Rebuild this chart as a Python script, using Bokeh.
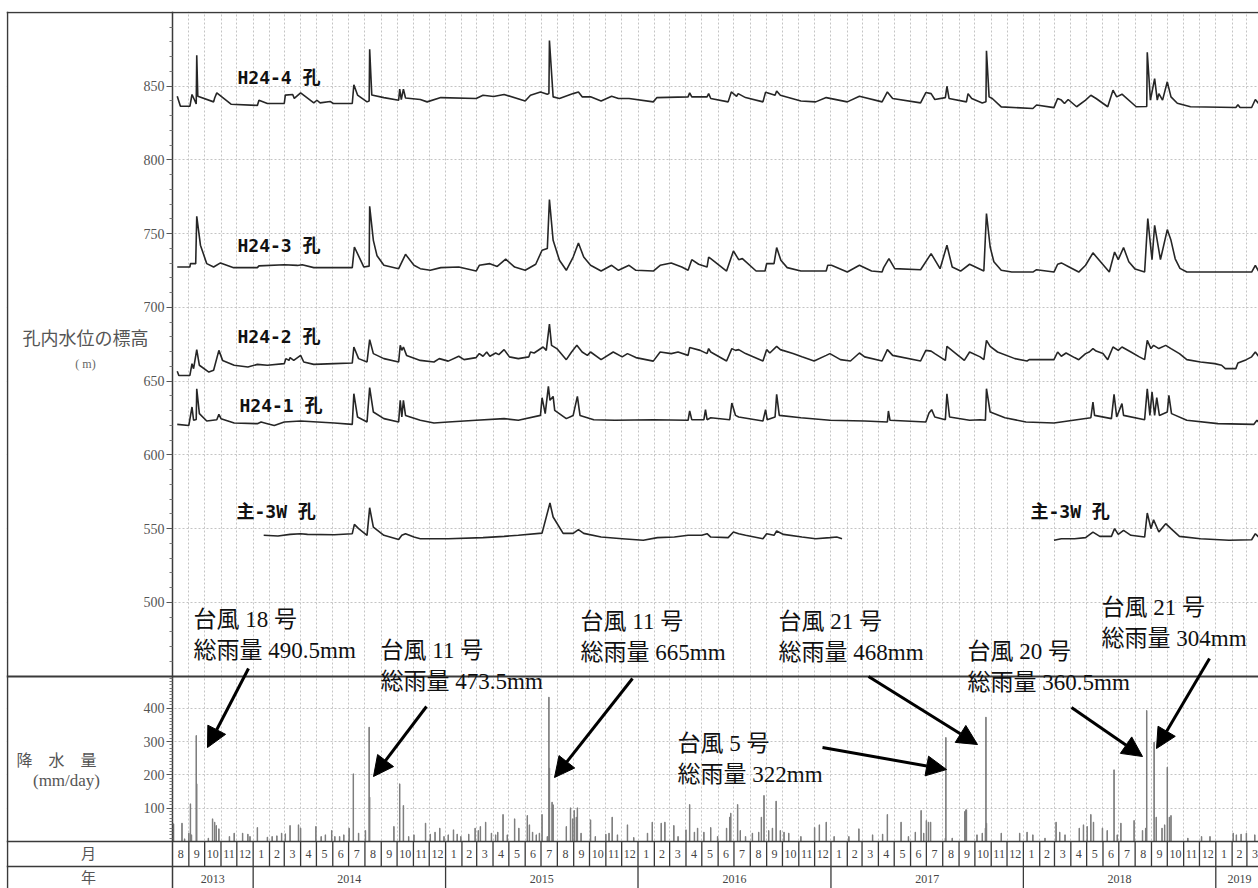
import pandas as pd
from bokeh.plotting import figure
from bokeh.models import Range1d, FixedTicker, Label, Arrow, NormalHead, Span
from bokeh.core.properties import value
from bokeh.embed import file_html
from bokeh.resources import INLINE

# ---------------------------------------------------------------- data
# groundwater level in boreholes (m a.s.l.)
H24_4_DATES = ["2013-08-10", "2013-08-16", "2013-09-03", "2013-09-07", "2013-09-12", "2013-09-15", "2013-09-16", "2013-09-18",
               "2013-10-18", "2013-10-20", "2013-10-24", "2013-11-20", "2014-01-09", "2014-01-12", "2014-01-28", "2014-03-01",
               "2014-03-03", "2014-03-17", "2014-03-20", "2014-04-01", "2014-04-26", "2014-05-02", "2014-05-08", "2014-05-27",
               "2014-06-02", "2014-07-08", "2014-07-11", "2014-07-18", "2014-08-05", "2014-08-09", "2014-08-10", "2014-08-14",
               "2014-09-06", "2014-10-04", "2014-10-06", "2014-10-09", "2014-10-13", "2014-10-17", "2014-11-14", "2014-11-27",
               "2014-12-23", "2015-02-28", "2015-03-13", "2015-04-02", "2015-04-22", "2015-06-01", "2015-06-11", "2015-06-30",
               "2015-07-13", "2015-07-16", "2015-07-17", "2015-07-24", "2015-08-05", "2015-08-31", "2015-09-10", "2015-09-17",
               "2015-10-03", "2015-10-23", "2015-11-12", "2015-11-25", "2015-12-15", "2016-01-30", "2016-02-06", "2016-04-05",
               "2016-04-08", "2016-04-12", "2016-05-11", "2016-05-14", "2016-05-18", "2016-06-20", "2016-06-26", "2016-07-06",
               "2016-07-09", "2016-07-23", "2016-08-25", "2016-08-30", "2016-09-17", "2016-09-20", "2016-09-27", "2016-11-05",
               "2016-12-03", "2016-12-23", "2017-02-01", "2017-02-24", "2017-04-08", "2017-04-18", "2017-04-28", "2017-06-20",
               "2017-06-30", "2017-07-10", "2017-07-17", "2017-08-06", "2017-08-09", "2017-08-13", "2017-09-15", "2017-09-18",
               "2017-09-25", "2017-10-15", "2017-10-22", "2017-10-23", "2017-10-28", "2017-11-03", "2017-11-20", "2018-01-19",
               "2018-01-26", "2018-02-28", "2018-03-07", "2018-03-14", "2018-03-20", "2018-03-27", "2018-04-12", "2018-04-29",
               "2018-05-09", "2018-05-19", "2018-06-10", "2018-06-20", "2018-06-27", "2018-07-07", "2018-08-03", "2018-08-23",
               "2018-08-24", "2018-08-30", "2018-09-07", "2018-09-12", "2018-09-15", "2018-09-22", "2018-10-01", "2018-10-08",
               "2018-10-20", "2018-11-14", "2019-02-08", "2019-02-12", "2019-02-16", "2019-03-10", "2019-03-17", "2019-03-23"]
H24_4_LEVEL = [843.2, 836.4, 836.4, 844.4, 840.5, 838.0, 871.0, 843.2,
               839.4, 842.0, 845.5, 837.8, 837.0, 840.5, 838.3, 838.3,
               844.0, 844.4, 841.8, 845.5, 838.7, 840.5, 838.7, 839.7,
               838.3, 838.3, 851.0, 844.0, 839.4, 840.0, 875.0, 844.0,
               842.3, 840.5, 848.0, 841.0, 848.0, 842.0, 841.0, 839.4,
               842.3, 841.7, 843.9, 843.0, 844.4, 840.0, 843.9, 846.1,
               844.6, 845.0, 881.0, 842.8, 841.7, 845.0, 846.1, 842.8,
               842.8, 840.0, 843.2, 841.7, 841.7, 839.4, 842.3, 842.8,
               845.5, 842.8, 842.8, 845.0, 841.7, 839.4, 846.1, 843.2,
               845.0, 842.3, 839.4, 846.0, 843.9, 846.8, 843.9, 840.0,
               839.4, 842.3, 839.4, 843.2, 839.4, 846.1, 841.7, 838.7,
               845.7, 845.0, 841.0, 842.3, 850.0, 841.7, 839.4, 845.0,
               841.7, 838.7, 839.5, 874.0, 842.8, 841.7, 836.0, 834.9,
               837.3, 835.5, 841.7, 840.6, 838.3, 841.0, 836.1, 840.6,
               843.9, 841.7, 836.1, 847.3, 842.8, 844.6, 836.1, 836.3,
               873.0, 840.6, 855.2, 840.6, 845.0, 840.6, 853.0, 842.8,
               838.5, 836.1, 835.6, 837.5, 835.6, 835.6, 841.0, 838.3]

H24_3_DATES = ["2013-08-10", "2013-09-03", "2013-09-04", "2013-09-14", "2013-09-16", "2013-09-23", "2013-10-05", "2013-10-18",
               "2013-10-31", "2013-11-25", "2014-01-09", "2014-01-12", "2014-03-01", "2014-03-26", "2014-04-04", "2014-04-26",
               "2014-07-08", "2014-07-12", "2014-07-30", "2014-08-09", "2014-08-10", "2014-08-17", "2014-08-24", "2014-09-06", "2014-10-04",
               "2014-10-17", "2014-11-02", "2014-11-14", "2014-12-03", "2014-12-23", "2015-01-26", "2015-02-28", "2015-03-06",
               "2015-03-26", "2015-04-09", "2015-04-25", "2015-05-12", "2015-06-01", "2015-06-21", "2015-07-03", "2015-07-13",
               "2015-07-17", "2015-07-24", "2015-08-05", "2015-08-18", "2015-08-31", "2015-09-10", "2015-09-20", "2015-10-03",
               "2015-10-23", "2015-11-12", "2015-11-25", "2015-12-15", "2015-12-28", "2016-01-30", "2016-02-12", "2016-03-04",
               "2016-03-24", "2016-04-05", "2016-04-12", "2016-04-25", "2016-05-11", "2016-05-14", "2016-05-18", "2016-06-17",
               "2016-06-30", "2016-07-10", "2016-07-17", "2016-08-12", "2016-08-29", "2016-09-01", "2016-09-15", "2016-09-20", "2016-09-28", "2016-10-10",
               "2016-11-05", "2016-12-23", "2016-12-26", "2017-01-02", "2017-02-01", "2017-02-24", "2017-03-19", "2017-04-08",
               "2017-04-11", "2017-04-21", "2017-05-02", "2017-06-20", "2017-07-10", "2017-07-27", "2017-08-09", "2017-08-19",
               "2017-09-04", "2017-09-21", "2017-10-18", "2017-10-23", "2017-10-30", "2017-11-06", "2017-11-20", "2017-12-10", "2018-01-19",
               "2018-01-26", "2018-02-28", "2018-03-07", "2018-03-14", "2018-03-27", "2018-04-16", "2018-04-29", "2018-05-13",
               "2018-06-13", "2018-06-23", "2018-06-30", "2018-07-10", "2018-07-20", "2018-08-01", "2018-08-19", "2018-08-25", "2018-09-02", "2018-09-07",
               "2018-09-18", "2018-10-01", "2018-10-08", "2018-10-16", "2018-10-25", "2018-11-07", "2019-03-10", "2019-03-17", "2019-03-23"]
H24_3_LEVEL = [727.4, 727.4, 729.7, 729.7, 761.8, 742.2, 729.7, 727.4,
               730.2, 727.0, 727.0, 728.2, 729.0, 728.5, 729.0, 727.0,
               727.0, 741.0, 727.4, 728.0, 768.6, 745.5, 735.0, 728.6, 726.3,
               736.0, 728.6, 726.3, 725.2, 727.0, 727.4, 724.7, 728.6,
               729.7, 727.8, 732.7, 727.4, 725.2, 729.3, 738.8, 740.0,
               773.2, 745.5, 732.0, 725.2, 734.2, 743.7, 734.2, 728.6,
               724.7, 728.6, 725.2, 728.6, 725.2, 724.7, 728.6, 730.2,
               727.4, 725.2, 732.4, 729.3, 727.4, 734.2, 733.1, 724.7,
               738.3, 732.4, 733.1, 724.7, 724.7, 729.7, 729.7, 740.6, 732.0, 727.0,
               724.7, 724.7, 728.6, 728.6, 724.0, 728.6, 724.7, 724.0,
               727.0, 733.1, 726.3, 725.6, 736.5, 726.3, 742.2, 727.4,
               724.7, 729.3, 724.7, 763.6, 741.0, 731.0, 725.2, 724.0, 724.0,
               725.6, 724.0, 729.3, 730.2, 727.8, 724.0, 728.6, 737.0,
               724.0, 737.6, 732.4, 740.6, 731.0, 726.0, 724.0, 760.2, 732.4, 755.7,
               732.4, 752.8, 745.5, 733.0, 726.5, 724.0, 724.0, 728.6, 724.7]

H24_2_DATES = ["2013-08-10", "2013-08-13", "2013-09-03", "2013-09-07", "2013-09-10", "2013-09-16", "2013-09-21", "2013-10-09",
               "2013-10-18", "2013-10-28", "2013-11-04", "2013-11-26", "2013-12-22", "2014-01-09", "2014-01-28", "2014-03-01",
               "2014-03-04", "2014-03-10", "2014-03-12", "2014-03-19", "2014-04-01", "2014-04-07", "2014-04-26", "2014-06-04",
               "2014-07-08", "2014-07-11", "2014-07-20", "2014-08-05", "2014-08-10", "2014-08-17", "2014-09-06", "2014-10-04",
               "2014-10-07", "2014-10-10", "2014-10-13", "2014-10-19", "2014-11-14", "2014-12-10", "2014-12-20", "2015-01-06",
               "2015-01-26", "2015-02-05", "2015-02-28", "2015-03-06", "2015-03-13", "2015-03-20", "2015-03-26", "2015-04-06",
               "2015-04-12", "2015-04-22", "2015-05-02", "2015-05-19", "2015-06-08", "2015-06-11", "2015-06-18", "2015-07-05",
               "2015-07-11", "2015-07-17", "2015-07-21", "2015-07-31", "2015-08-18", "2015-08-28", "2015-09-07", "2015-09-17",
               "2015-09-27", "2015-10-03", "2015-10-23", "2015-11-15", "2015-12-02", "2015-12-12", "2015-12-28", "2016-01-30",
               "2016-02-12", "2016-03-04", "2016-03-17", "2016-04-05", "2016-04-08", "2016-04-28", "2016-05-11", "2016-05-14",
               "2016-05-18", "2016-06-17", "2016-06-27", "2016-07-04", "2016-07-10", "2016-07-23", "2016-08-25", "2016-09-01",
               "2016-09-07", "2016-09-20", "2016-09-27", "2016-10-21", "2016-11-07", "2016-11-30", "2016-12-23", "2016-12-30",
               "2017-01-19", "2017-02-07", "2017-02-24", "2017-03-06", "2017-04-08", "2017-04-18", "2017-04-28", "2017-06-20",
               "2017-06-30", "2017-07-10", "2017-07-17", "2017-08-06", "2017-08-09", "2017-08-26", "2017-09-11", "2017-09-21",
               "2017-10-11", "2017-10-18", "2017-10-23", "2017-10-30", "2017-11-13", "2017-12-16", "2018-01-08", "2018-01-12",
               "2018-02-28", "2018-03-07", "2018-03-14", "2018-03-23", "2018-04-08", "2018-04-16", "2018-04-29", "2018-05-06",
               "2018-05-13", "2018-05-19", "2018-06-01", "2018-06-10", "2018-06-20", "2018-06-30", "2018-07-07", "2018-07-24",
               "2018-08-09", "2018-08-19", "2018-08-24", "2018-08-31", "2018-09-05", "2018-09-15", "2018-09-28", "2018-10-08",
               "2018-10-24", "2018-11-07", "2018-12-03", "2018-12-30", "2019-01-12", "2019-01-19", "2019-02-08", "2019-02-12",
               "2019-02-28", "2019-03-10", "2019-03-17", "2019-03-23"]
H24_2_LEVEL = [656.7, 653.9, 653.9, 661.9, 658.5, 671.4, 660.8, 656.2,
               657.4, 670.9, 664.1, 660.8, 659.6, 661.4, 660.8, 661.9,
               665.3, 664.1, 666.0, 664.1, 667.5, 663.0, 661.4, 661.9,
               662.3, 673.2, 665.3, 663.0, 678.2, 668.7, 665.3, 663.0,
               674.3, 670.9, 673.2, 667.5, 664.1, 663.0, 665.3, 663.6,
               666.9, 664.6, 666.0, 668.7, 666.9, 669.8, 666.9, 669.1,
               668.0, 671.4, 666.5, 665.3, 666.5, 669.8, 669.1, 673.2,
               670.9, 688.7, 674.3, 672.1, 664.6, 669.8, 674.3, 669.8,
               667.5, 669.8, 664.6, 669.8, 666.5, 668.7, 666.0, 663.6,
               669.8, 668.7, 669.8, 667.5, 672.8, 670.9, 668.7, 672.1,
               669.8, 663.7, 672.1, 670.9, 671.4, 668.7, 663.7, 671.4,
               669.1, 673.6, 671.4, 668.7, 666.5, 663.7, 667.5, 668.7,
               664.6, 663.7, 669.1, 666.5, 663.7, 671.4, 667.5, 663.7,
               670.9, 670.4, 668.7, 664.1, 673.6, 668.7, 664.1, 669.8,
               666.5, 664.6, 677.7, 673.6, 669.8, 665.3, 663.7, 664.6,
               664.6, 669.8, 666.9, 669.1, 666.0, 664.6, 668.7, 669.8,
               672.1, 670.4, 668.7, 664.6, 673.2, 670.9, 673.2, 669.8,
               666.5, 664.6, 677.7, 672.1, 674.3, 672.1, 674.3, 672.1,
               668.7, 664.6, 663.0, 661.9, 660.8, 658.5, 658.5, 662.3,
               664.6, 666.5, 669.8, 666.9]

H24_1_DATES = ["2013-08-10", "2013-09-01", "2013-09-07", "2013-09-10", "2013-09-15", "2013-09-16", "2013-09-21", "2013-10-05",
               "2013-10-24", "2013-10-28", "2013-11-01", "2013-11-26", "2014-01-09", "2014-01-16", "2014-01-28", "2014-02-10",
               "2014-03-01", "2014-04-01", "2014-06-04", "2014-07-08", "2014-07-11", "2014-07-18", "2014-08-05", "2014-08-10",
               "2014-08-17", "2014-09-06", "2014-10-04", "2014-10-07", "2014-10-10", "2014-10-13", "2014-10-17", "2014-11-14",
               "2014-12-10", "2015-01-06", "2015-02-28", "2015-04-22", "2015-05-19", "2015-06-30", "2015-07-03", "2015-07-09",
               "2015-07-15", "2015-07-18", "2015-07-24", "2015-07-27", "2015-08-18", "2015-08-31", "2015-09-08", "2015-09-13",
               "2015-10-09", "2015-11-18", "2016-01-30", "2016-04-05", "2016-04-08", "2016-04-12", "2016-05-05", "2016-05-08",
               "2016-05-11", "2016-05-18", "2016-06-23", "2016-06-27", "2016-07-04", "2016-07-10", "2016-08-25", "2016-08-30",
               "2016-09-02", "2016-09-17", "2016-09-20", "2016-09-25", "2016-11-05", "2016-12-30", "2017-03-06", "2017-04-18",
               "2017-04-20", "2017-04-23", "2017-06-30", "2017-07-06", "2017-07-11", "2017-07-17", "2017-08-06", "2017-08-09",
               "2017-08-14", "2017-09-21", "2017-10-11", "2017-10-21", "2017-10-23", "2017-10-30", "2017-11-27", "2018-01-06",
               "2018-02-28", "2018-05-09", "2018-05-13", "2018-05-16", "2018-06-17", "2018-06-22", "2018-06-27", "2018-07-07",
               "2018-07-10", "2018-08-19", "2018-08-24", "2018-08-29", "2018-09-02", "2018-09-07", "2018-09-11", "2018-09-16",
               "2018-10-01", "2018-10-04", "2018-10-09", "2018-11-07", "2019-01-05", "2019-03-14", "2019-03-20", "2019-03-23"]
H24_1_LEVEL = [620.7, 620.0, 632.5, 623.5, 624.0, 644.9, 628.0, 623.0,
               623.9, 627.5, 624.6, 621.6, 621.2, 622.3, 621.2, 620.0,
               622.3, 623.0, 621.6, 620.7, 641.5, 625.7, 622.3, 645.6,
               629.1, 624.6, 622.3, 637.0, 625.7, 637.0, 626.8, 623.5,
               621.6, 622.3, 623.5, 624.6, 623.5, 626.8, 638.8, 628.0,
               646.5, 637.0, 639.7, 630.2, 624.6, 626.8, 639.7, 626.8,
               623.9, 623.5, 623.9, 623.5, 629.8, 623.9, 623.9, 630.7,
               623.9, 625.2, 623.9, 635.2, 626.8, 625.7, 623.0, 630.7,
               623.9, 625.7, 641.1, 626.8, 625.2, 623.5, 623.0, 622.3,
               629.8, 623.5, 622.3, 628.4, 630.7, 625.7, 623.9, 641.5,
               625.7, 623.5, 623.9, 623.5, 644.9, 629.1, 625.2, 622.3,
               621.6, 625.2, 635.9, 626.8, 624.6, 641.1, 625.7, 634.8,
               626.8, 623.9, 644.9, 626.8, 642.7, 626.8, 638.8, 626.8,
               629.1, 640.4, 628.0, 623.5, 621.2, 620.7, 623.5, 622.3]

# main borehole 3W: two recording periods
MAIN_3W_A_DATES = ["2014-01-21", "2014-02-17", "2014-03-12", "2014-04-01", "2014-04-14", "2014-06-04", "2014-07-08", "2014-07-12",
                   "2014-07-20", "2014-08-05", "2014-08-10", "2014-08-17", "2014-09-06", "2014-10-04", "2014-10-10", "2014-10-17",
                   "2014-11-02", "2014-11-14", "2015-01-06", "2015-03-13", "2015-04-22", "2015-05-19", "2015-07-03", "2015-07-18",
                   "2015-07-24", "2015-08-12", "2015-08-31", "2015-09-10", "2015-09-20", "2015-10-23", "2015-12-02", "2016-01-11",
                   "2016-02-07", "2016-03-10", "2016-04-05", "2016-05-01", "2016-05-11", "2016-05-18", "2016-06-20", "2016-06-30",
                   "2016-07-10", "2016-07-23", "2016-08-25", "2016-09-01", "2016-09-15", "2016-09-20", "2016-10-03", "2016-11-07",
                   "2016-12-03", "2016-12-30", "2017-01-12", "2017-01-22"]
MAIN_3W_A_LEVEL = [545.5, 545.0, 546.1, 546.6, 546.1, 545.9, 546.6, 552.9,
                   550.0, 545.5, 564.2, 551.1, 545.5, 542.7, 545.5, 546.6,
                   544.3, 543.2, 543.2, 543.9, 544.8, 545.5, 547.0, 567.4,
                   557.9, 546.8, 546.8, 549.3, 546.8, 544.3, 543.2, 542.1,
                   543.9, 544.3, 545.5, 545.5, 546.6, 544.3, 543.9, 547.7,
                   546.6, 545.5, 543.2, 546.6, 545.5, 548.4, 546.1, 544.3,
                   543.2, 543.9, 544.3, 543.2]
MAIN_3W_B_DATES = ["2018-02-28", "2018-03-14", "2018-04-08", "2018-04-29", "2018-05-13", "2018-05-26", "2018-06-17", "2018-06-23",
                   "2018-06-30", "2018-07-10", "2018-07-24", "2018-08-19", "2018-08-24", "2018-08-31", "2018-09-05", "2018-09-15",
                   "2018-09-28", "2018-10-08", "2018-10-24", "2018-12-03", "2019-01-26", "2019-03-10", "2019-03-17", "2019-03-23"]
MAIN_3W_B_LEVEL = [542.1, 543.2, 543.2, 543.9, 547.7, 544.8, 544.8, 550.0,
                   546.1, 548.8, 545.5, 544.3, 560.6, 550.0, 556.0, 547.7,
                   553.4, 550.0, 544.8, 543.2, 542.1, 542.5, 546.6, 544.3]

# daily precipitation (mm/day)
RAIN_DATES = ["2013-08-03", "2013-08-19", "2013-08-24", "2013-09-01", "2013-09-04", "2013-09-06", "2013-09-15", "2013-09-16",
              "2013-10-08", "2013-10-16", "2013-10-20", "2013-10-23", "2013-10-28", "2013-11-17", "2013-11-26", "2013-12-12",
              "2013-12-22", "2013-12-26",
              "2014-01-09", "2014-01-28", "2014-02-06", "2014-02-15", "2014-02-24", "2014-03-03", "2014-03-12", "2014-03-28",
              "2014-04-01", "2014-04-30", "2014-05-10", "2014-05-18", "2014-05-30", "2014-06-05", "2014-06-14", "2014-06-22",
              "2014-07-02", "2014-07-10", "2014-07-20", "2014-08-02", "2014-08-09", "2014-08-10", "2014-09-25", "2014-10-06",
              "2014-10-13", "2014-10-23", "2014-11-02", "2014-11-24", "2014-12-03", "2014-12-12", "2014-12-21", "2014-12-29",
              "2015-01-06", "2015-01-16", "2015-01-23", "2015-01-30", "2015-02-14", "2015-02-26", "2015-03-04", "2015-03-08",
              "2015-03-18", "2015-03-29", "2015-04-06", "2015-04-10", "2015-04-20", "2015-04-28", "2015-05-12", "2015-05-20",
              "2015-06-05", "2015-06-09", "2015-06-15", "2015-06-22", "2015-06-28", "2015-07-03", "2015-07-13", "2015-07-16",
              "2015-07-17", "2015-07-22", "2015-07-24", "2015-08-18", "2015-08-26", "2015-08-30", "2015-09-02", "2015-09-06",
              "2015-09-08", "2015-09-15", "2015-10-03", "2015-10-12", "2015-11-01", "2015-11-07", "2015-11-13", "2015-11-23",
              "2015-12-12", "2015-12-24",
              "2016-01-19", "2016-01-28", "2016-02-14", "2016-02-21", "2016-03-09", "2016-03-17", "2016-04-01", "2016-04-08",
              "2016-04-17", "2016-04-23", "2016-05-05", "2016-05-18", "2016-05-31", "2016-06-17", "2016-06-23", "2016-06-25",
              "2016-07-08", "2016-07-13", "2016-07-23", "2016-08-05", "2016-08-17", "2016-08-22", "2016-08-27", "2016-09-05",
              "2016-09-12", "2016-09-19", "2016-09-27", "2016-10-04", "2016-10-13", "2016-11-05", "2016-12-01", "2016-12-10",
              "2016-12-23",
              "2017-01-07", "2017-02-04", "2017-02-23", "2017-03-21", "2017-04-09", "2017-04-18", "2017-05-14", "2017-05-28",
              "2017-06-10", "2017-06-21", "2017-06-26", "2017-07-01", "2017-07-05", "2017-07-09", "2017-08-06", "2017-08-07",
              "2017-08-19", "2017-09-12", "2017-09-14", "2017-09-15", "2017-10-05", "2017-10-15", "2017-10-21", "2017-10-22",
              "2017-10-23", "2017-11-20", "2017-12-25",
              "2018-01-08", "2018-01-19", "2018-02-11", "2018-03-04", "2018-03-11", "2018-03-21", "2018-04-17", "2018-04-25",
              "2018-05-02", "2018-05-09", "2018-05-14", "2018-05-31", "2018-06-09", "2018-06-22", "2018-06-28", "2018-07-05",
              "2018-07-30", "2018-08-15", "2018-08-21", "2018-08-23", "2018-09-06", "2018-09-10", "2018-09-21", "2018-09-26",
              "2018-10-01", "2018-10-05", "2018-10-08", "2018-11-09", "2018-12-05", "2018-12-21",
              "2019-02-03", "2019-02-09", "2019-02-18", "2019-02-28", "2019-03-16"]
RAIN_MM = [53, 55, 8, 25, 113, 20, 318, 173,
           10, 68, 58, 48, 38, 15, 25, 25,
           22, 15,
           42, 13, 15, 17, 25, 23, 48, 50,
           40, 45, 15, 20, 33, 15, 15, 20,
           40, 203, 25, 33, 343, 133, 45, 173,
           108, 15, 20, 55, 22, 28, 40, 15,
           20, 35, 22, 15, 22, 40, 33, 45,
           58, 25, 20, 28, 81, 20, 68, 40,
           78, 50, 28, 20, 25, 81, 15, 433,
           220, 118, 110, 45, 101, 68, 93, 73,
           101, 25, 65, 15, 22, 25, 73, 20,
           50, 12,
           25, 58, 55, 58, 48, 15, 35, 111,
           28, 40, 28, 42, 15, 40, 73, 85,
           111, 33, 15, 25, 28, 73, 138, 33,
           40, 121, 33, 28, 25, 15, 42, 50,
           58,
           15, 15, 38, 20, 22, 81, 58, 15,
           28, 93, 25, 63, 58, 58, 10, 312,
           10, 90, 95, 95, 20, 25, 40, 373,
           55, 25, 25,
           28, 20, 10, 58, 28, 20, 40, 50,
           45, 81, 58, 40, 33, 215, 20, 55,
           63, 33, 40, 393, 298, 73, 40, 50,
           223, 73, 78, 10, 15, 15,
           25, 20, 22, 25, 20]

YEARS = [2013, 2014, 2015, 2016, 2017, 2018, 2019]
WATER_TICKS = [500, 550, 600, 650, 700, 750, 800, 850]
RAIN_TICKS = [100, 200, 300, 400]

SERIES_NAMES = ["H24-4 孔", "H24-3 孔", "H24-2 孔", "H24-1 孔", "主-3W 孔", "主-3W 孔"]
TYPHOON_NAMES = ["台風 18 号", "台風 11 号", "台風 11 号", "台風 21 号", "台風 5 号", "台風 20 号", "台風 21 号"]
TYPHOON_TOTALS = ["総雨量 490.5mm", "総雨量 473.5mm", "総雨量 665mm", "総雨量 468mm",
                  "総雨量 322mm", "総雨量 360.5mm", "総雨量 304mm"]

# ---------------------------------------------------------------- layout
W, H = 1258, 888
FRAME_L, FRAME_T = 6, 11               # plot frame edges in the canvas
AXIS_PX = 172                           # where the time axis starts (y axis line)
T_START = pd.Timestamp("2013-08-01")
T_VIEW_END = pd.Timestamp("2019-03-23")
T_AXIS_END = pd.Timestamp("2019-04-01")
W_RANGE = (306.0, 900.68)              # water level scale over the frame height
R_RANGE = (-141.0, 2490.0)             # precipitation scale over the frame height


def ms(t):
    return pd.Timestamp(t).value / 1e6


X0, X1 = ms(T_START), ms(T_VIEW_END)
MS_PER_PX = (X1 - X0) / (W - AXIS_PX)
XL = X0 - (AXIS_PX - FRAME_L) * MS_PER_PX     # left edge of the header column


def xpx(px):
    return X0 + (px - AXIS_PX) * MS_PER_PX


def wy(py):
    return W_RANGE[1] - (py - FRAME_T) * (W_RANGE[1] - W_RANGE[0]) / (H - FRAME_T)


def ry(py):
    return R_RANGE[1] - (py - FRAME_T) * (R_RANGE[1] - R_RANGE[0]) / (H - FRAME_T)


def rain_as_water(r):
    return W_RANGE[0] + (r - R_RANGE[0]) * (W_RANGE[1] - W_RANGE[0]) / (R_RANGE[1] - R_RANGE[0])


SERIF_JP = "Liberation Serif, Noto Sans CJK JP"
GOTHIC_JP = "DejaVu Sans Mono, Noto Sans CJK JP"
LINE = "#3a3a3a"

p = figure(width=W, height=H, x_range=Range1d(XL, X1), y_range=Range1d(*W_RANGE),
           x_axis_type="datetime", x_axis_location=None,
           output_backend="svg", toolbar_location=None,
           min_border_left=FRAME_L, min_border_right=0, min_border_top=FRAME_T, min_border_bottom=0,
           background_fill_color="white", border_fill_color="white", outline_line_color=None)
p.extra_y_ranges = {"rain": Range1d(*R_RANGE)}

# ---- y axis pinned at the start of the record: water level on top, precipitation below
rain_major = [rain_as_water(r) for r in RAIN_TICKS]
water_minor = [v for v in range(460, 900, 10) if v not in WATER_TICKS]
rain_minor = [rain_as_water(r) for r in range(10, 500, 10) if r not in RAIN_TICKS]
ax = p.yaxis[0]
ax.fixed_location = X0
ax.ticker = FixedTicker(ticks=WATER_TICKS + rain_major, minor_ticks=water_minor + rain_minor)
labels = {float(t): str(t) for t in WATER_TICKS}
labels.update({w: str(r) for w, r in zip(rain_major, RAIN_TICKS)})
ax.major_label_overrides = labels
ax.axis_line_color = LINE
ax.axis_line_width = 1.5
ax.major_tick_line_color = "#555"
ax.minor_tick_line_color = "#777"
ax.major_tick_out, ax.major_tick_in = 6, 0
ax.minor_tick_out, ax.minor_tick_in = 3, 0
ax.major_label_standoff = 2
ax.major_label_text_font = "Liberation Serif"
ax.major_label_text_font_size = "14px"
ax.major_label_text_color = "#555"

# ---- grid: monthly verticals, 50 m / 100 mm horizontals
month_starts = pd.date_range(T_START, T_AXIS_END, freq="MS")
p.xgrid.ticker = FixedTicker(ticks=[ms(m) for m in month_starts])
p.ygrid.ticker = FixedTicker(ticks=WATER_TICKS + rain_major)
for g in (p.xgrid, p.ygrid):
    g.grid_line_color = "#c4c4c4"
    g.grid_line_dash = "2 2"
    g.grid_line_width = 1

# blank header column left of the axis
p.quad(left=XL, right=X0, bottom=R_RANGE[0], top=R_RANGE[1], y_range_name="rain",
       fill_color="white", line_color=None)

# ---- precipitation bars
p.vbar(x=pd.to_datetime(RAIN_DATES), top=RAIN_MM, bottom=0, width=86400000 * 0.9,
       y_range_name="rain", fill_color="#7d7d7d", line_color="#7d7d7d", line_width=1)

# ---- water level lines
for d, v in [(H24_4_DATES, H24_4_LEVEL), (H24_3_DATES, H24_3_LEVEL), (H24_2_DATES, H24_2_LEVEL),
             (H24_1_DATES, H24_1_LEVEL), (MAIN_3W_A_DATES, MAIN_3W_A_LEVEL), (MAIN_3W_B_DATES, MAIN_3W_B_LEVEL)]:
    p.line(pd.to_datetime(d), v, line_color="#262626", line_width=1.6)

# ---- month / year table under the plot
ROW_TOP, ROW_MID, ROW_BOT = 0, -75, -150
p.quad(left=X0, right=ms(T_AXIS_END), bottom=ROW_BOT, top=ROW_TOP, y_range_name="rain",
       fill_color="white", line_color=None)
m_start = month_starts[:-1]
m_end = month_starts[1:]
m_mid = m_start + (m_end - m_start) / 2
p.segment(x0=m_start[1:], y0=[ROW_TOP] * (len(m_start) - 1), x1=m_start[1:], y1=[ROW_MID] * (len(m_start) - 1),
          y_range_name="rain", line_color=LINE, line_width=1.3)
p.text(x=m_mid, y=[(ROW_TOP + ROW_MID) / 2] * len(m_mid), text=[str(m.month) for m in m_start],
       y_range_name="rain", text_align="center", text_baseline="middle",
       text_font=value("Liberation Serif"), text_font_size="12px", text_color="#444")
y_lo = [max(pd.Timestamp(f"{y}-01-01"), T_START) for y in YEARS]
y_hi = [min(pd.Timestamp(f"{y + 1}-01-01"), T_AXIS_END) for y in YEARS]
y_mid = [a + (b - a) / 2 for a, b in zip(y_lo, y_hi)]
p.segment(x0=y_lo[1:], y0=[ROW_MID] * (len(YEARS) - 1), x1=y_lo[1:], y1=[ROW_BOT] * (len(YEARS) - 1),
          y_range_name="rain", line_color=LINE, line_width=1.3)
p.text(x=y_mid, y=[(ROW_MID + ROW_BOT) / 2] * len(YEARS), text=[str(y) for y in YEARS],
       y_range_name="rain", text_align="center", text_baseline="middle",
       text_font=value("Liberation Serif"), text_font_size="12px", text_color="#444")

# ---- ruled table lines (panel separators and header column border)
for py, lw in [(12, 1.5), (676, 1.8), (841, 1.5), (866, 1.5)]:
    p.add_layout(Span(location=wy(py), dimension="width", line_color=LINE, line_width=lw))
p.add_layout(Span(location=xpx(7), dimension="height", line_color=LINE, line_width=1.5))


def text_label(px, py, txt, size, font=SERIF_JP, color="#111", align="left", style="normal"):
    p.add_layout(Label(x=xpx(px), y=wy(py), text=txt, text_align=align, text_baseline="middle",
                       text_font=font, text_font_size=size, text_color=color, text_font_style=style))


text_label(85, 338, "孔内水位の標高", "18px", color="#555", align="center")
text_label(85, 363, "( m)", "12px", color="#666", align="center")
text_label(56, 760, "降　水　量", "16px", color="#555", align="center")
text_label(66, 780, "(mm/day)", "17px", font="Liberation Serif", color="#555", align="center")
text_label(88, 853, "月", "15px", color="#555", align="center")
text_label(88, 877, "年", "15px", color="#555", align="center")

# ---- borehole names
for name, (px, py) in zip(SERIES_NAMES, [(237, 77), (237, 245), (237, 336), (239, 405), (236, 511), (1030, 511)]):
    text_label(px, py, name, "18px", font=GOTHIC_JP, color="#111", style="bold")

# ---- typhoon notes with arrows to the rain bars
NOTE_POS = [(193, 619), (380, 650), (580, 621), (778, 621), (677, 743), (967, 651), (1101, 607)]
ARROWS = [((248, 668), (207, 747)), ((426, 706), (373, 776)), ((632, 678), (554, 777)),
          ((868, 676), (977, 744)), ((822, 747), (946, 769)), ((1071, 707), (1142, 756)),
          ((1209, 658), (1156, 748))]
for name, total, (px, py) in zip(TYPHOON_NAMES, TYPHOON_TOTALS, NOTE_POS):
    text_label(px, py, name, "23px")
    text_label(px, py + 31, total, "23px")
for (xa, ya), (xb, yb) in ARROWS:
    p.add_layout(Arrow(end=NormalHead(size=20, fill_color="black", line_color="black"),
                       x_start=xpx(xa), y_start=ry(ya), x_end=xpx(xb), y_end=ry(yb),
                       y_range_name="rain", line_color="black", line_width=3))

open("out.html", "w").write(file_html(p, INLINE))
